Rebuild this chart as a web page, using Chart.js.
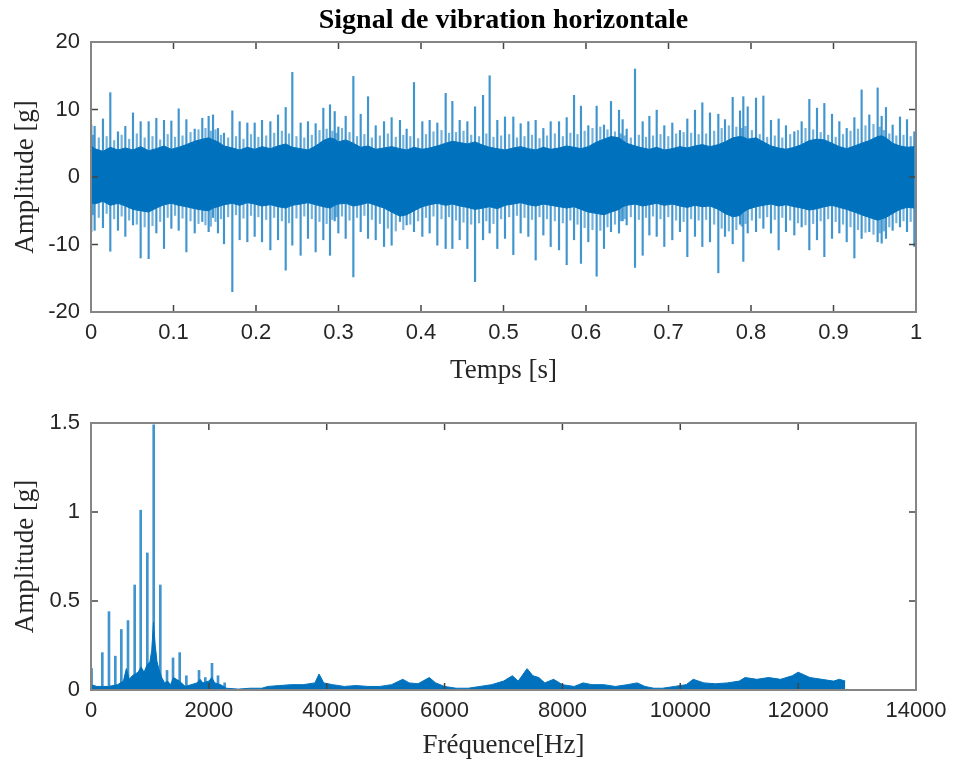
<!DOCTYPE html>
<html lang="fr">
<head>
<meta charset="UTF-8">
<title>Signal de vibration horizontale</title>
<script src="https://cdn.jsdelivr.net/npm/chart.js"></script>
<style>
  body { margin: 0; background: #fff; }
  #wrap { position: relative; width: 956px; height: 769px; }
  canvas { position: absolute; left: 0; }
  #signalChart { top: 0; }
  #spectrumChart { top: 390px; }
</style>
</head>
<body>
<div id="wrap">
  <canvas id="signalChart" width="956" height="390"></canvas>
  <canvas id="spectrumChart" width="956" height="379"></canvas>
</div>
<script>
// Time signal: impacts (time in s, max / min in g)
const spikeTimes = [
  0.0004, 0.0044, 0.0145, 0.0234, 0.0327, 0.0416, 0.0509, 0.0602, 0.0699, 0.0792,
  0.0885, 0.0974, 0.1063, 0.1156, 0.1257, 0.1349, 0.1426, 0.1479, 0.1539, 0.1612,
  0.1713, 0.1802, 0.1895, 0.1984, 0.2073, 0.2174, 0.2267, 0.2360, 0.2440,
  0.2541, 0.2630, 0.2723, 0.2816, 0.2897, 0.2954, 0.2998, 0.3087, 0.3180, 0.3269,
  0.3358, 0.3451, 0.3552, 0.3644, 0.3745, 0.3826, 0.3915, 0.4016, 0.4105, 0.4198,
  0.4299, 0.4380, 0.4469, 0.4562, 0.4655, 0.4752, 0.4832, 0.4925,
  0.5018, 0.5119, 0.5208, 0.5301, 0.5390, 0.5483, 0.5572, 0.5673, 0.5766, 0.5855,
  0.5939, 0.6028, 0.6129, 0.6218, 0.6303, 0.6400, 0.6444, 0.6493, 0.6594, 0.6687,
  0.6768, 0.6857, 0.6949, 0.7046, 0.7139, 0.7228, 0.7321, 0.7410,
  0.7503, 0.7604, 0.7685, 0.7778, 0.7867, 0.7907, 0.7960, 0.8061, 0.8150, 0.8242,
  0.8335, 0.8424, 0.8525, 0.8614, 0.8707, 0.8800, 0.8889, 0.8982, 0.9071, 0.9160,
  0.9253, 0.9341, 0.9434, 0.9535, 0.9584, 0.9636, 0.9717, 0.9806, 0.9891, 0.9980
];
const spikeHigh = [
  7.7, 7.5, 8.6, 12.5, 6.7, 7.5, 9.5, 8.2, 8.2, 8.7,
  8.4, 8.3, 10.1, 8.5, 7.1, 8.7, 9.0, 9.2, 7.2, 6.5,
  9.8, 8.2, 8.0, 8.0, 8.4, 8.2, 9.2, 10.3, 15.5,
  8.0, 8.2, 7.9, 10.2, 10.7, 9.7, 7.4, 9.0, 14.9, 9.3,
  11.9, 7.6, 8.2, 8.8, 8.4, 7.1, 14.0, 8.2, 8.4, 8.0,
  12.4, 11.2, 8.4, 8.2, 10.4, 12.1, 15.0, 8.4,
  8.9, 8.9, 7.9, 8.2, 8.4, 7.2, 8.2, 8.2, 8.8, 12.1,
  10.5, 7.6, 10.5, 7.7, 11.2, 9.9, 8.5, 7.1, 16.0, 8.2,
  9.0, 9.9, 7.6, 8.0, 6.9, 8.6, 9.9, 11.0,
  9.5, 9.3, 8.5, 11.8, 9.8, 11.9, 10.4, 11.7, 12.0, 8.4,
  8.6, 7.6, 6.7, 8.2, 11.5, 10.2, 10.9, 9.3, 8.2, 7.2,
  8.8, 12.9, 9.2, 13.2, 9.0, 10.3, 7.7, 8.9, 8.5, 6.7
];
const spikeLow = [
  -8.1, -7.9, -7.5, -11.0, -7.9, -8.8, -7.1, -12.0, -12.1, -8.3,
  -10.6, -7.6, -7.9, -11.1, -8.3, -6.6, -8.1, -6.0, -8.3, -9.9,
  -17.0, -9.3, -9.6, -8.8, -9.6, -10.8, -9.3, -13.8, -10.1,
  -11.6, -9.1, -11.1, -9.3, -11.6, -6.5, -8.3, -9.1, -14.8, -8.1,
  -9.1, -9.3, -10.3, -10.1, -6.6, -7.1, -8.1, -8.8, -8.3, -10.1,
  -10.6, -10.6, -9.3, -10.6, -15.5, -9.3, -8.3, -10.6,
  -9.1, -11.5, -8.3, -8.8, -12.3, -8.6, -10.3, -10.8, -13.0, -9.3,
  -12.8, -9.6, -14.7, -10.6, -8.1, -8.3, -6.5, -7.1, -13.4, -11.6,
  -8.6, -8.8, -10.3, -9.3, -8.1, -11.8, -8.8, -10.3,
  -9.6, -14.2, -8.8, -9.9, -7.0, -12.5, -8.3, -8.1, -7.6, -8.3,
  -10.8, -8.1, -8.6, -7.4, -10.8, -9.3, -11.8, -9.1, -8.3, -9.6,
  -12.0, -9.1, -8.1, -9.6, -9.8, -9.1, -7.9, -7.4, -8.1, -10.3
];
// smaller oscillations between two impacts (max / min in g)
const minorHigh = [
  6.2, 5.8, 6.0, 5.4, 6.2, 5.6, 6.4, 5.8, 6.0, 5.5, 6.3, 5.9, 6.1, 6.6, 7.0, 7.2, 6.8, 7.0, 6.2, 5.8,
  6.0, 5.6, 6.3, 5.9, 6.1, 6.5, 6.8, 6.4,
  6.0, 5.8, 6.2, 6.9, 7.1, 6.8, 6.5, 7.2, 6.6, 6.0, 6.3, 5.8, 6.1, 6.4, 5.9, 6.2, 6.0, 5.7, 6.3, 6.7,
  6.9, 6.5, 6.6, 6.8, 6.2, 6.0, 6.4, 5.9,
  6.1, 6.3, 5.8, 6.0, 6.2, 5.7, 6.1, 6.4, 6.0, 6.5, 6.3, 6.8, 7.2, 7.4, 7.0, 6.7, 6.4, 6.1, 5.8, 6.2,
  5.9, 6.1, 6.3, 6.0, 6.4, 6.6, 6.5, 6.3,
  6.4, 6.8, 7.2, 7.6, 7.4, 7.2, 7.5, 6.9, 6.3, 5.9, 6.1, 5.8, 6.3, 6.9, 7.2, 7.0, 6.6, 6.2, 5.9, 6.3,
  6.8, 7.1, 7.6, 7.8, 7.4, 6.9, 6.4, 6.1, 6.2, 6.0
];
const minorLow = [
  -5.6, -6.0, -5.4, -6.2, -5.8, -6.4, -7.0, -7.4, -7.2, -6.6, -6.0, -5.7, -6.1, -6.5, -6.9, -7.1, -7.3, -6.6, -6.2, -5.9,
  -5.6, -6.1, -5.7, -5.9, -6.3, -6.0, -6.5, -6.8,
  -6.1, -5.8, -6.2, -6.6, -6.9, -6.3, -5.9, -5.8, -6.4, -6.0, -5.7, -6.3, -6.9, -7.6, -8.0, -7.8, -7.0, -6.5, -6.0, -5.8,
  -6.2, -5.9, -6.4, -6.7, -7.0, -6.8, -6.5, -6.9,
  -6.2, -5.9, -5.7, -6.0, -6.3, -5.9, -6.2, -6.5, -6.8, -6.4, -7.0, -7.5, -7.8, -7.9, -7.4, -7.0, -6.5, -6.2, -5.9, -6.3,
  -6.0, -5.8, -6.2, -5.9, -6.4, -6.6, -6.2, -6.4,
  -6.3, -7.0, -7.6, -8.0, -7.8, -7.3, -6.9, -6.4, -6.1, -5.9, -6.3, -6.0, -6.4, -6.8, -7.1, -6.9, -6.5, -6.2, -6.6, -7.0,
  -7.4, -7.8, -8.2, -8.5, -8.3, -8.0, -7.4, -6.8, -6.5, -6.6
];
// dense noise band around zero (upper / lower edge at the impact times)
const bandHigh = [
  4.6, 4.2, 3.8, 4.4, 4.0, 4.3, 4.0, 4.5, 3.9, 4.2,
  4.6, 4.1, 4.4, 4.8, 5.3, 5.6, 5.8, 5.5, 5.2, 4.6,
  4.3, 4.0, 4.4, 4.1, 4.5, 4.2, 4.6, 4.9, 4.4,
  4.2, 4.0, 4.6, 5.4, 5.8, 5.6, 5.2, 5.5, 5.0, 4.4,
  4.6, 4.1, 4.3, 4.5, 4.2, 4.0, 4.4, 4.1, 4.3, 4.6,
  5.0, 5.3, 5.1, 4.9, 5.2, 4.7, 4.4, 4.2,
  4.0, 4.3, 4.5, 4.2, 4.0, 4.4, 4.1, 4.3, 4.6, 4.4,
  4.2, 4.5, 5.2, 5.6, 6.0, 5.8, 5.4, 5.0, 4.6, 4.3,
  4.1, 4.4, 4.0, 4.2, 4.5, 4.3, 4.6, 4.8,
  4.5, 4.8, 5.2, 5.8, 6.0, 5.9, 5.6, 5.8, 5.2, 4.6,
  4.3, 4.1, 4.4, 4.8, 5.4, 5.6, 5.5, 5.0, 4.5, 4.2,
  4.6, 5.0, 5.4, 6.0, 6.1, 5.8, 5.0, 4.6, 4.4, 4.5
];
const bandLow = [
  -3.8, -4.0, -3.6, -4.2, -3.9, -4.3, -4.8, -5.0, -5.2, -4.6,
  -4.1, -3.9, -4.2, -4.4, -4.7, -4.9, -5.0, -4.6, -4.4, -4.1,
  -3.9, -4.2, -3.8, -4.0, -4.3, -4.1, -4.4, -4.6, -4.2,
  -4.0, -3.8, -4.1, -4.4, -4.6, -4.2, -4.0, -3.9, -4.3, -4.1,
  -3.8, -4.2, -4.6, -5.2, -5.8, -5.6, -5.0, -4.4, -4.1, -3.9,
  -4.2, -4.0, -4.3, -4.5, -4.8, -4.6, -4.4, -4.7,
  -4.2, -4.0, -3.8, -4.1, -4.3, -4.0, -4.2, -4.4, -4.6, -4.4,
  -4.8, -5.2, -5.4, -5.6, -5.2, -4.8, -4.4, -4.2, -4.0, -4.3,
  -4.1, -3.9, -4.2, -4.0, -4.3, -4.5, -4.2, -4.4,
  -4.3, -4.8, -5.4, -5.9, -5.7, -5.2, -4.8, -4.4, -4.2, -4.0,
  -4.3, -4.1, -4.4, -4.6, -4.9, -4.7, -4.4, -4.2, -4.5, -4.8,
  -5.2, -5.6, -6.0, -6.4, -6.2, -6.0, -5.4, -4.8, -4.5, -4.6
];

// Spectrum: harmonic peaks (Hz, g) and broadband floor (Hz, g)
const peakFreq = [10, 192, 305, 413, 515, 628, 741, 843, 956, 1064, 1176, 1290, 1392, 1505, 1618, 1833, 1940, 2053, 2155, 2268];
const peakAmp = [0.12, 0.21, 0.44, 0.19, 0.34, 0.39, 0.59, 1.01, 0.77, 1.49, 0.59, 0.11, 0.18, 0.21, 0.08, 0.11, 0.07, 0.15, 0.08, 0.04];
const floorFreq = [
  0, 100, 300, 450, 550, 600, 650, 700, 750, 800, 850, 900, 950, 1000, 1030, 1060, 1090, 1120,
  1150, 1200, 1250, 1300, 1350, 1400, 1450, 1500, 1600, 1700, 1800, 1850, 1900, 2000, 2050,
  2100, 2200, 2300, 2500, 2700, 2900, 3000, 3200, 3400, 3600, 3800, 3870, 3950, 4100, 4300,
  4500, 4700, 4900, 5100, 5290, 5400, 5550, 5740, 5850, 6000, 6200, 6400, 6600, 6800, 7000,
  7150, 7250, 7400, 7500, 7600, 7700, 7850, 8000, 8200, 8350, 8500, 8700, 8900, 9100, 9270,
  9400, 9550, 9700, 9900, 10100, 10220, 10400, 10600, 10800, 11000, 11100, 11300, 11500,
  11700, 11900, 12000, 12200, 12400, 12600, 12700, 12800
];
const floorAmp = [
  0.03, 0.02, 0.02, 0.03, 0.05, 0.12, 0.06, 0.08, 0.09, 0.10, 0.13, 0.10, 0.14, 0.16, 0.22, 0.38, 0.25, 0.16,
  0.12, 0.07, 0.04, 0.05, 0.03, 0.07, 0.06, 0.05, 0.02, 0.03, 0.04, 0.06, 0.04, 0.05, 0.07,
  0.04, 0.03, 0.01, 0.005, 0.01, 0.01, 0.02, 0.025, 0.03, 0.03, 0.04, 0.09, 0.04, 0.03, 0.02,
  0.025, 0.02, 0.02, 0.03, 0.06, 0.04, 0.035, 0.07, 0.04, 0.02, 0.01, 0.01, 0.02, 0.03, 0.05,
  0.08, 0.05, 0.12, 0.08, 0.07, 0.04, 0.06, 0.03, 0.02, 0.04, 0.03, 0.03, 0.02, 0.03, 0.04,
  0.02, 0.01, 0.01, 0.02, 0.03, 0.06, 0.04, 0.035, 0.04, 0.05, 0.07, 0.06, 0.07,
  0.06, 0.08, 0.10, 0.07, 0.06, 0.05, 0.06, 0.05
];

const blue = '#0072BD';
const tickFont = { family: 'Liberation Sans', size: 22 };
const labelFont = { family: 'Liberation Serif', size: 27 };
const textColor = '#262626';

// MATLAB style box with inward ticks on all four sides
const boxTicks = {
  id: 'boxTicks',
  afterDatasetsDraw(chart) {
    const { ctx, chartArea: a, scales: { x, y } } = chart;
    ctx.save();
    ctx.strokeStyle = '#444';
    ctx.lineWidth = 1.5;
    ctx.beginPath();
    x.ticks.forEach((t) => {
      const px = x.getPixelForValue(t.value);
      ctx.moveTo(px, a.bottom); ctx.lineTo(px, a.bottom - 7);
      ctx.moveTo(px, a.top); ctx.lineTo(px, a.top + 7);
    });
    y.ticks.forEach((t) => {
      const py = y.getPixelForValue(t.value);
      ctx.moveTo(a.left, py); ctx.lineTo(a.left + 7, py);
      ctx.moveTo(a.right, py); ctx.lineTo(a.right - 7, py);
    });
    ctx.stroke();
    ctx.strokeStyle = '#858585';
    ctx.lineWidth = 2;
    ctx.strokeRect(a.left, a.top, a.right - a.left, a.bottom - a.top);
    ctx.restore();
  }
};

const fmt = (v) => String(Math.round(v * 1000) / 1000);

function axisX(min, max, step, title, height, titlePad) {
  return {
    type: 'linear', min, max, offset: false,
    grid: { display: false, drawTicks: false },
    border: { display: false },
    ticks: { stepSize: step, font: tickFont, color: textColor, padding: 8, maxRotation: 0, callback: fmt },
    title: { display: true, text: title, font: labelFont, color: textColor, padding: { top: 0, bottom: titlePad } },
    afterFit: (s) => { s.height = height; }
  };
}
function axisY(min, max, step) {
  return {
    min, max,
    grid: { display: false, drawTicks: false },
    border: { display: false },
    ticks: { stepSize: step, font: tickFont, color: textColor, padding: 11, callback: fmt },
    title: { display: true, text: 'Amplitude [g]', font: labelFont, color: textColor, padding: { top: 10, bottom: 0 } },
    afterFit: (s) => { s.width = 91; }
  };
}

// the small oscillations sit half way between two impacts
const minorTimes = minorHigh.map((_, i) => (spikeTimes[i] + spikeTimes[i + 1]) / 2);

new Chart(document.getElementById('signalChart'), {
  type: 'bar',
  data: {
    datasets: [
      {
        type: 'bar',
        data: spikeTimes.map((t, i) => ({ x: t, y: [spikeLow[i], spikeHigh[i]] })),
        backgroundColor: 'rgba(0,114,189,0.75)',
        barThickness: 1.5,
        grouped: false
      },
      {
        type: 'bar',
        data: minorTimes.map((t, i) => ({ x: t, y: [minorLow[i], minorHigh[i]] })),
        backgroundColor: 'rgba(0,114,189,0.55)',
        barThickness: 1.5,
        grouped: false
      },
      {
        type: 'line',
        data: spikeTimes.map((t, i) => ({ x: t, y: bandHigh[i] })),
        borderColor: blue, backgroundColor: blue, borderWidth: 1,
        pointRadius: 0, fill: '+1'
      },
      {
        type: 'line',
        data: spikeTimes.map((t, i) => ({ x: t, y: bandLow[i] })),
        borderColor: blue, borderWidth: 1, pointRadius: 0, fill: false
      }
    ]
  },
  options: {
    responsive: false,
    animation: false,
    devicePixelRatio: 1,
    layout: { padding: { left: 0, right: 40, top: 0, bottom: 0 } },
    plugins: {
      legend: { display: false },
      tooltip: { enabled: false },
      title: {
        display: true, text: 'Signal de vibration horizontale',
        fullSize: false,
        font: { family: 'Liberation Serif', size: 28, weight: 'bold' }, color: '#000',
        padding: { top: 4, bottom: 4.4 }
      }
    },
    scales: {
      x: axisX(0, 1, 0.1, 'Temps [s]', 78, 3),
      y: axisY(-20, 20, 10)
    }
  },
  plugins: [boxTicks]
});

new Chart(document.getElementById('spectrumChart'), {
  type: 'bar',
  data: {
    datasets: [
      {
        type: 'bar',
        data: peakFreq.map((f, i) => ({ x: f, y: peakAmp[i] })),
        backgroundColor: 'rgba(0,114,189,0.75)',
        barThickness: 2,
        grouped: false
      },
      {
        type: 'line',
        data: floorFreq.map((f, i) => ({ x: f, y: floorAmp[i] })),
        borderColor: blue, backgroundColor: blue, borderWidth: 1,
        pointRadius: 0, fill: 'origin'
      }
    ]
  },
  options: {
    responsive: false,
    animation: false,
    devicePixelRatio: 1,
    layout: { padding: { left: 0, right: 40, top: 33, bottom: 0 } },
    plugins: { legend: { display: false }, tooltip: { enabled: false } },
    scales: {
      x: axisX(0, 14000, 2000, 'Fréquence[Hz]', 79, 7),
      y: axisY(0, 1.5, 0.5)
    }
  },
  plugins: [boxTicks]
});
</script>
</body>
</html>
